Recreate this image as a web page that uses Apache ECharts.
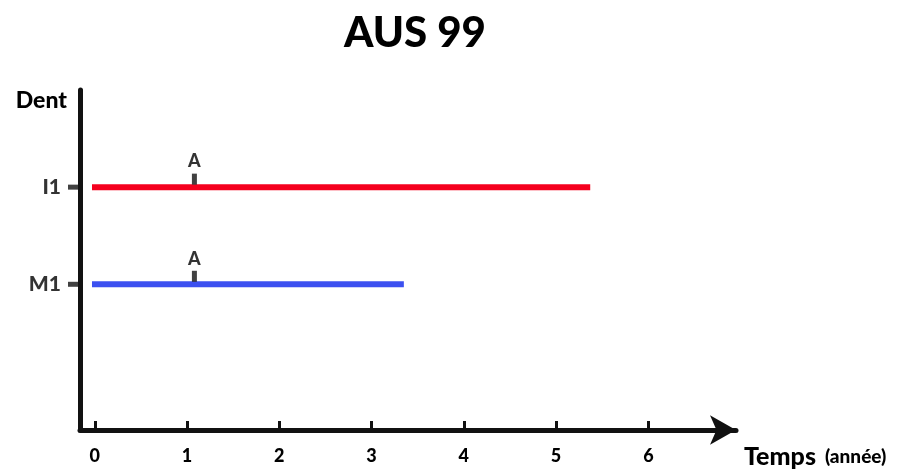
<!DOCTYPE html>
<html>
<head>
<meta charset="utf-8">
<script src="https://cdn.jsdelivr.net/npm/echarts@6/dist/echarts.min.js"></script>
<style>
html,body{margin:0;padding:0;background:#fff;}
#main{width:906px;height:473px;}
</style>
</head>
<body>
<div id="main"></div>
<script>
// Data
var teeth = ['M1', 'I1'];
var toothLevels = [1.5, 2.5];
var xTicks = [0, 1, 2, 3, 4, 5, 6];
var i1Span = [-0.03, 5.37];
var m1Span = [-0.03, 3.35];
var eventLabel = 'A';
var eventTimes = [1.08, 1.08];

var FONT = 'Lato';
var chart = echarts.init(document.getElementById('main'));

var option = {
  animation: false,
  backgroundColor: '#ffffff',
  title: {
    text: 'AUS 99',
    left: 410, top: 7, textAlign: 'center',
    textStyle: { fontFamily: FONT, fontWeight: 900, fontSize: 42, color: '#000' }
  },
  grid: { left: 80, right: 170, top: 90, bottom: 43, containLabel: false },
  xAxis: {
    type: 'value',
    min: -0.16, max: 6.95,
    splitLine: { show: false },
    axisLine: { show: true, symbol: ['none', 'arrow'], symbolSize: [22, 26], lineStyle: { color: '#111', width: 5 } },
    axisTick: { show: true, inside: true, length: 9, customValues: xTicks, lineStyle: { color: '#111', width: 3 } },
    axisLabel: {
      margin: 17, fontFamily: FONT, fontWeight: 900, fontSize: 18, color: '#000',
      customValues: xTicks
    },
    name: '{a|Temps}{b|(année)}',
    nameLocation: 'end',
    nameGap: 8,
    nameTextStyle: {
      padding: [54, 0, 0, 0],
      align: 'left',
      rich: {
        a: { fontFamily: FONT, fontWeight: 900, fontSize: 25, color: '#000' },
        b: { fontFamily: FONT, fontWeight: 900, fontSize: 19, color: '#000', padding: [0, 0, 0, 9] }
      }
    }
  },
  yAxis: {
    type: 'value',
    min: 0, max: 3.5,
    splitLine: { show: false },
    axisLine: { show: true, onZero: false, lineStyle: { color: '#111', width: 5 } },
    axisTick: { show: false },
    axisLabel: { show: false },
    name: 'Dent',
    nameLocation: 'end',
    nameGap: 0,
    nameTextStyle: { fontFamily: FONT, fontWeight: 900, fontSize: 23, color: '#000', align: 'right', padding: [0, 13, -22, 0] }
  },
  series: [
    {
      name: 'I1', type: 'line', symbol: 'none',
      data: [[i1Span[0], toothLevels[1]], [i1Span[1], toothLevels[1]]],
      lineStyle: { color: '#f5001e', width: 6 }
    },
    {
      name: 'M1', type: 'line', symbol: 'none',
      data: [[m1Span[0], toothLevels[0]], [m1Span[1], toothLevels[0]]],
      lineStyle: { color: '#3c50f0', width: 6 }
    },
    {
      name: 'events', type: 'scatter',
      symbol: 'rect', symbolSize: [5, 11], symbolOffset: [0, -8],
      itemStyle: { color: '#111' },
      label: {
        show: true, position: 'top', distance: 3, formatter: eventLabel,
        fontFamily: FONT, fontWeight: 900, fontSize: 18, color: '#000'
      },
      data: [[eventTimes[0], toothLevels[1]], [eventTimes[1], toothLevels[0]]],
      z: 5
    },
    {
      name: 'yticks', type: 'scatter',
      symbol: 'rect', symbolSize: [12, 5], symbolOffset: [-6, 0],
      itemStyle: { color: '#111' },
      label: {
        show: true, position: 'left', distance: 7,
        formatter: function (p) { return teeth[p.dataIndex]; },
        fontFamily: FONT, fontWeight: 900, fontSize: 21, color: '#000'
      },
      data: [[-0.16, toothLevels[0]], [-0.16, toothLevels[1]]],
      clip: false,
      z: 6
    }
  ]
};
chart.setOption(option);
</script>
</body>
</html>
